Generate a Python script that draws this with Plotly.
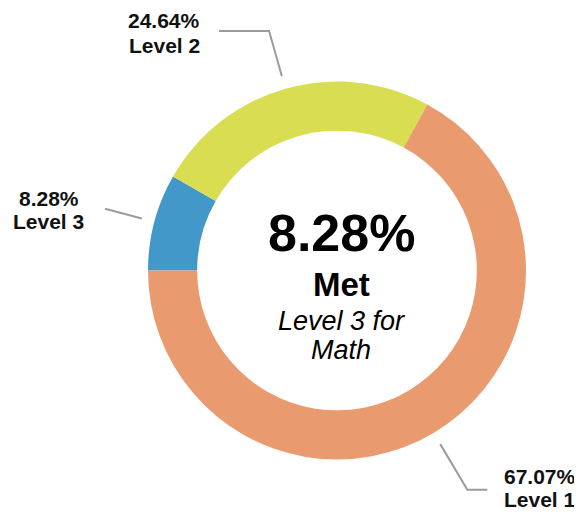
import math
import plotly.graph_objects as go

# ---- data ----
labels = ["Level 3", "Level 2", "Level 1"]
values = [8.28, 24.64, 67.07]
colors = ["#4198C9", "#D9DD52", "#E99A6F"]
center_value = "8.28%"
center_lines = ["Met", "Level 3 for", "Math"]

# page body has an 8px margin: work in window pixels, convert to paper
OFF = 8
W, H = 582 - OFF, 512 - OFF
CX, CY, R = 337, 270.5, 189
HOLE = 0.74
ROT = 270  # first slice starts at 9 o'clock

def px(x):
    return (x - OFF) / W

def py(y):
    return 1 - (y - OFF) / H

fig = go.Figure(go.Pie(
    labels=labels, values=values, sort=False, direction="clockwise",
    rotation=ROT, hole=HOLE, textinfo="none", hoverinfo="label+percent",
    marker=dict(colors=colors, line=dict(width=0)),
    domain=dict(x=[px(CX - R), px(CX + R)], y=[py(CY + R), py(CY - R)]),
    showlegend=False,
))

# leader lines computed from slice mid-angles
total = sum(values)
elbow_r = {"Level 3": 240, "Level 2": 249, "Level 1": 255}
tail = {"Level 3": 0, "Level 2": -50, "Level 1": 20}
# label text positions (window px: x centre, y of each line)
label_pos = {"Level 3": (48.5, 198, 221), "Level 2": (164, 20, 46), "Level 1": (540, 476, 499)}
FS = 21
shapes, annots = [], []
start = ROT
for lab, v in zip(labels, values):
    span = v / total * 360
    mid = math.radians(start + span / 2)
    start += span
    r1, r2 = R + 13, elbow_r[lab]
    x1, y1 = CX + r1 * math.sin(mid), CY - r1 * math.cos(mid)
    x2, y2 = CX + r2 * math.sin(mid), CY - r2 * math.cos(mid)
    x3 = x2 + tail[lab]
    path = f"M {px(x1)},{py(y1)} L {px(x2)},{py(y2)} L {px(x3)},{py(y2)}"
    shapes.append(dict(type="path", path=path, xref="paper", yref="paper",
                       line=dict(color="#9B9B9B", width=2)))
    lx, ly1, ly2 = label_pos[lab]
    for txt, ly in ((f"{v:.2f}%", ly1), (lab, ly2)):
        annots.append(dict(text=f"<b>{txt}</b>", x=px(lx), y=py(ly),
                           xref="paper", yref="paper", xanchor="center", yanchor="middle",
                           showarrow=False,
                           font=dict(family="Liberation Sans", size=FS, color="#111111")))

# center text
TX = 341
annots.append(dict(text=f"<b>{center_value}</b>", x=px(TX), y=py(233), xref="paper", yref="paper",
                   showarrow=False, xanchor="center", yanchor="middle",
                   font=dict(family="Liberation Sans", size=52, color="#000000")))
annots.append(dict(text=f"<b>{center_lines[0]}</b>", x=px(TX), y=py(284), xref="paper", yref="paper",
                   showarrow=False, xanchor="center", yanchor="middle",
                   font=dict(family="Liberation Sans", size=33, color="#000000")))
annots.append(dict(text=f"<i>{center_lines[1]}</i>", x=px(TX), y=py(321), xref="paper", yref="paper",
                   showarrow=False, xanchor="center", yanchor="middle",
                   font=dict(family="Liberation Sans", size=27, color="#000000")))
annots.append(dict(text=f"<i>{center_lines[2]}</i>", x=px(TX), y=py(350), xref="paper", yref="paper",
                   showarrow=False, xanchor="center", yanchor="middle",
                   font=dict(family="Liberation Sans", size=27, color="#000000")))

fig.update_layout(
    width=W, height=H, margin=dict(l=0, r=0, t=0, b=0),
    paper_bgcolor="white", plot_bgcolor="white",
    shapes=shapes, annotations=annots,
)
fig.write_html("out.html")
